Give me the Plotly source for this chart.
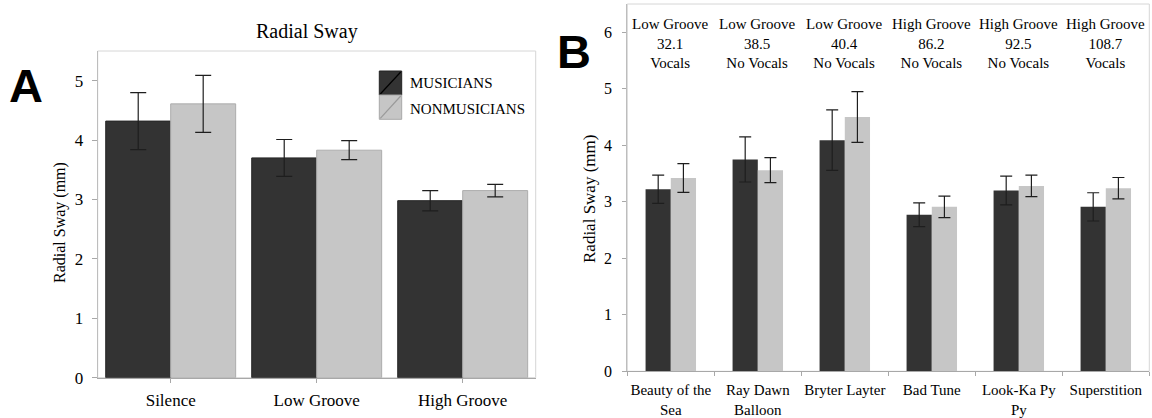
import plotly.graph_objects as go

# ---- Panel A: radial sway by condition ----
conditions = ["Silence", "Low Groove", "High Groove"]
musicians_a = [4.32, 3.70, 2.98]
musicians_a_err = [0.48, 0.31, 0.17]
nonmusicians_a = [4.61, 3.83, 3.15]
nonmusicians_a_err = [0.48, 0.16, 0.105]

# ---- Panel B: radial sway by song ----
songs = ["Beauty of the<br>Sea", "Ray Dawn<br>Balloon", "Bryter Layter",
         "Bad Tune", "Look-Ka Py<br>Py", "Superstition"]
musicians_b = [3.22, 3.75, 4.09, 2.77, 3.20, 2.91]
musicians_b_err = [0.25, 0.40, 0.535, 0.21, 0.255, 0.25]
nonmusicians_b = [3.42, 3.56, 4.50, 2.91, 3.28, 3.24]
nonmusicians_b_err = [0.255, 0.22, 0.45, 0.19, 0.19, 0.19]

# song descriptors printed above each pair of bars
groove_level = ["Low Groove", "Low Groove", "Low Groove",
                "High Groove", "High Groove", "High Groove"]
groove_rating = ["32.1", "38.5", "40.4", "86.2", "92.5", "108.7"]
vocals = ["Vocals", "No Vocals", "No Vocals", "No Vocals", "No Vocals", "Vocals"]

W, H = 1152, 418
DARK = "#333333"
LIGHT = "#c6c6c6"
SERIF = "Liberation Serif, Times New Roman, serif"
SANS = "Liberation Sans, Arial, sans-serif"


def px(x):
    return x / W


def py(y):
    return 1 - y / H


fig = go.Figure()

err_style = dict(type="data", visible=True, color="#1e1e1e", thickness=1.2)

fig.add_trace(go.Bar(
    x=conditions, y=musicians_a, name="MUSICIANS",
    marker=dict(color=DARK, line=dict(color="#262626", width=1)),
    error_y=dict(array=musicians_a_err, width=8, **err_style),
    width=0.445, offset=-0.445,
    xaxis="x", yaxis="y", showlegend=False))
fig.add_trace(go.Bar(
    x=conditions, y=nonmusicians_a, name="NONMUSICIANS",
    marker=dict(color=LIGHT, line=dict(color="#adadad", width=1)),
    error_y=dict(array=nonmusicians_a_err, width=8, **err_style),
    width=0.445, offset=0.0,
    xaxis="x", yaxis="y", showlegend=False))

fig.add_trace(go.Bar(
    x=songs, y=musicians_b, name="MUSICIANS",
    marker=dict(color=DARK, line=dict(width=0)),
    error_y=dict(array=musicians_b_err, width=6, **err_style),
    width=0.29, offset=-0.29,
    xaxis="x2", yaxis="y2", showlegend=False))
fig.add_trace(go.Bar(
    x=songs, y=nonmusicians_b, name="NONMUSICIANS",
    marker=dict(color=LIGHT, line=dict(width=0)),
    error_y=dict(array=nonmusicians_b_err, width=6, **err_style),
    width=0.29, offset=0.0,
    xaxis="x2", yaxis="y2", showlegend=False))

axis_common = dict(showgrid=False, zeroline=False, showline=True,
                   automargin=False, tickangle=0,
                   ticks="outside", tickcolor="#a8a8a8", tickwidth=1)

fig.update_layout(
    width=W, height=H,
    margin=dict(l=0, r=0, t=0, b=0, autoexpand=False),
    paper_bgcolor="white", plot_bgcolor="white",
    font=dict(family=SERIF, color="black"),
    xaxis=dict(domain=[px(97.7), px(535.7)], anchor="y",
               linecolor="#a8a8a8", ticklen=4, ticklabelstandoff=3,
               tickfont=dict(size=17, family=SERIF, color="black"),
               **axis_common),
    yaxis=dict(domain=[py(377.7), py(51)], anchor="x", range=[0, 5.5],
               tickvals=[0, 1, 2, 3, 4, 5], linecolor="#bdbdbd", ticklen=5,
               ticklabelstandoff=5,
               tickfont=dict(size=17, family=SERIF, color="black"),
               **axis_common),
    xaxis2=dict(domain=[px(627.3), px(1149.3)], anchor="y2",
                linecolor="#a8a8a8", ticklen=4, tickson="boundaries",
                ticklabelstandoff=5,
                tickfont=dict(size=15, family=SERIF, color="black"),
                **axis_common),
    yaxis2=dict(domain=[py(371.3), py(4)], anchor="x2", range=[0, 6.5],
                tickvals=[0, 1, 2, 3, 4, 5, 6], linecolor="#bdbdbd", ticklen=4,
                ticklabelstandoff=7,
                tickfont=dict(size=16, family=SERIF, color="black"),
                **axis_common),
)

shapes = []
# light frame around each plot area
for xr, yr in (("x domain", "y domain"), ("x2 domain", "y2 domain")):
    shapes.append(dict(type="rect", xref=xr, yref=yr, x0=0, x1=1, y0=0, y1=1,
                       line=dict(color="#d6d6d6", width=1), layer="below"))

# legend swatches (panel A)
sw_x0, sw_x1 = px(379.3), px(401.7)
for (top, bot, fill, edge, diag) in ((71, 95, DARK, "#222222", "#000000"),
                                     (95, 119.3, LIGHT, "#a8a8a8", "#9a9a9a")):
    shapes.append(dict(type="rect", xref="paper", yref="paper",
                       x0=sw_x0, x1=sw_x1, y0=py(bot), y1=py(top),
                       fillcolor=fill, line=dict(color=edge, width=1)))
    shapes.append(dict(type="line", xref="paper", yref="paper",
                       x0=sw_x0 + px(1), x1=sw_x1 - px(1),
                       y0=py(bot - 1), y1=py(top + 1),
                       line=dict(color=diag, width=1.2)))
fig.update_layout(shapes=shapes)


def label(text, x, y, size, family=SERIF, xanchor="center", **kw):
    return dict(text=text, x=px(x), y=py(y), xref="paper", yref="paper",
                xanchor=xanchor, yanchor="middle", showarrow=False,
                font=dict(size=size, family=family, color="black"), **kw)


annotations = [
    label("Radial Sway", 306.5, 31.7, 20),
    label("MUSICIANS", 407.7, 82.7, 15, xanchor="left"),
    label("NONMUSICIANS", 407.7, 109, 15, xanchor="left"),
    label("Radial Sway (mm)", 60, 223, 16, textangle=-90),
    label("Radial Sway (mm)", 589, 199, 17, textangle=-90),
    label("<b>A</b>", 26, 86, 47, family=SANS),
    label("<b>B</b>", 574, 51, 47, family=SANS),
]

for song, lvl, rating, voc in zip(songs, groove_level, groove_rating, vocals):
    annotations.append(dict(
        text=f"{lvl}<br>{rating}<br>{voc}", x=song, xref="x2",
        y=py(43), yref="paper", xanchor="center", yanchor="middle",
        showarrow=False, font=dict(size=15, family=SERIF, color="black")))

fig.update_layout(annotations=annotations)

fig.write_html("out.html")
